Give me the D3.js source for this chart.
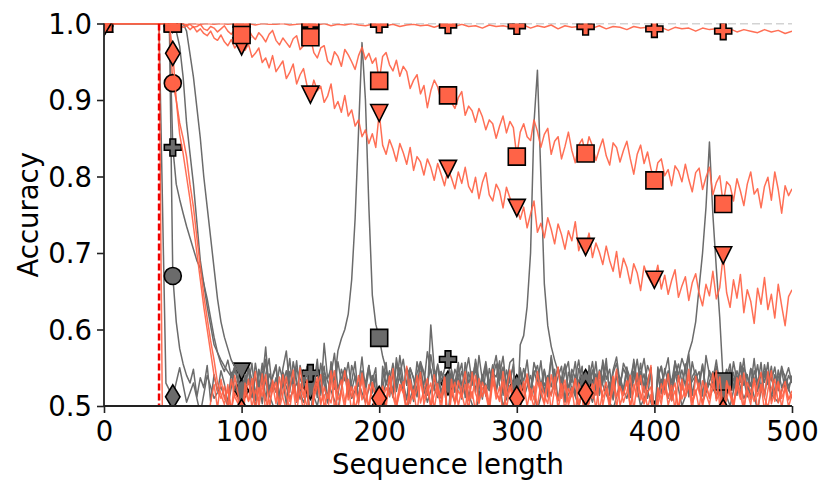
<!DOCTYPE html>
<html><head><meta charset="utf-8">
<script src="https://cdn.jsdelivr.net/npm/d3@7"></script>
<style>
body{margin:0;background:#fff}
svg{display:block}
text{font-family:"DejaVu Sans",sans-serif;fill:#000}
</style>
</head><body>
<svg id="chart" width="831" height="493"></svg>
<script>
// ---------- data ----------
const X_MAX = 500;
const MARK_EVERY = 50;       // a marker every 50 steps
const TRAIN_LENGTH = 40;     // red dashed line
const xTicks = [0, 100, 200, 300, 400, 500];
const yTicks = [0.5, 0.6, 0.7, 0.8, 0.9, 1.0];
const xLabel = "Sequence length";
const yLabel = "Accuracy";

// values sampled every 2.5 steps (x = 0, 2.5, ..., 500); one row = 50 steps
const graySquare = [
  1,1,1,1,1,1,1,1,1,1,1,1,1,1,1,1,1,1,1,1,
  1,1,1,1,.99,.96,.93,.89,.85,.8,.76,.72,.68,.64,.61,.59,.575,.56,.552,.545,
  .47,.532,.548,.515,.556,.528,.503,.541,.562,.519,.537,.51,.549,.572,.524,.538,.505,.553,.529,.545,
  .475,.528,.551,.517,.539,.506,.558,.531,.572,.588,.6,.62,.665,.745,.86,.975,.9,.76,.645,.607,
  .589,.565,.548,.532,.556,.519,.542,.561,.527,.55,.535,.512,.558,.544,.521,.567,.538,.553,.516,.541,
  .475,.546,.529,.557,.518,.54,.563,.531,.549,.512,.536,.558,.524,.545,.566,.533,.551,.528,.557,.562,
  .475,.58,.592,.63,.7,.87,.939,.8,.66,.605,.578,.56,.545,.532,.555,.52,.548,.537,.56,.528,
  .47,.543,.526,.558,.514,.539,.552,.521,.547,.564,.53,.516,.549,.536,.557,.523,.541,.562,.528,.55,
  .475,.538,.552,.524,.546,.531,.558,.54,.562,.548,.57,.585,.61,.655,.7,.76,.845,.75,.68,.615,
  .532,.548,.526,.544,.519,.557,.535,.512,.549,.53,.554,.521,.541,.528,.552,.515,.537,.546,.522,.54,
  .53];
const grayTriangle = [
  1,1,1,1,1,1,1,1,1,1,1,1,1,1,1,1,1,1,1,1,
  1,.99,.97,.93,.87,.83,.79,.74,.69,.66,.63,.605,.58,.57,.56,.552,.545,.538,.55,.532,
  .545,.519,.552,.534,.507,.548,.526,.561,.513,.537,.552,.504,.529,.546,.518,.558,.533,.509,.547,.524,
  .52,.543,.511,.556,.528,.504,.541,.569,.522,.536,.549,.515,.532,.558,.507,.544,.527,.553,.518,.539,
  .475,.534,.557,.512,.543,.525,.566,.531,.508,.549,.537,.52,.555,.541,.514,.606,.548,.526,.545,.53,
  .47,.548,.523,.539,.556,.511,.544,.527,.561,.535,.509,.547,.53,.554,.518,.541,.565,.524,.538,.551,
  .475,.526,.549,.533,.518,.557,.54,.512,.546,.529,.563,.521,.538,.552,.507,.544,.531,.558,.516,.539,
  .47,.553,.527,.542,.516,.56,.535,.548,.511,.539,.524,.556,.545,.519,.533,.561,.528,.542,.51,.55,
  .47,.537,.552,.521,.544,.508,.559,.532,.547,.526,.568,.514,.54,.531,.555,.518,.546,.534,.56,.527,
  .47,.545,.522,.558,.533,.515,.55,.538,.526,.562,.519,.543,.531,.557,.508,.541,.527,.552,.535,.52,
  .54];
const grayPlus = [
  1,1,1,1,1,1,1,1,1,1,1,1,1,1,1,1,1,1,1,1,
  .838,.79,.77,.752,.735,.72,.705,.69,.68,.66,.64,.615,.59,.57,.555,.545,.56,.538,.552,.53,
  .475,.541,.528,.556,.513,.547,.532,.577,.521,.539,.554,.508,.544,.53,.562,.517,.549,.536,.525,.552,
  .543,.527,.561,.514,.582,.536,.549,.522,.558,.531,.545,.512,.553,.538,.526,.564,.519,.547,.533,.55,
  .47,.552,.529,.546,.517,.563,.535,.524,.55,.541,.513,.558,.537,.528,.571,.546,.52,.555,.532,.548,
  .561,.524,.548,.536,.509,.557,.529,.545,.518,.566,.533,.552,.521,.543,.538,.559,.514,.547,.53,.555,
  .475,.546,.532,.56,.519,.541,.553,.527,.548,.512,.566,.534,.55,.523,.544,.558,.516,.539,.531,.552,
  .47,.535,.558,.521,.547,.53,.562,.514,.543,.556,.527,.549,.538,.511,.561,.532,.545,.524,.553,.54,
  .475,.551,.526,.544,.563,.518,.539,.555,.531,.547,.52,.558,.536,.545,.513,.566,.541,.528,.552,.534,
  .47,.538,.555,.523,.546,.531,.562,.517,.549,.535,.527,.557,.512,.544,.533,.551,.52,.547,.539,.526,
  .535];
const grayCircle = [
  1,1,1,1,1,1,1,1,1,1,1,1,1,1,1,1,1,1,1,1,
  .67,.61,.575,.555,.54,.53,.548,.512,.537,.524,.553,.506,.541,.518,.546,.529,.503,.544,.521,.538,
  .47,.526,.549,.511,.538,.523,.556,.507,.542,.53,.518,.551,.534,.502,.545,.527,.559,.515,.538,.522,
  .47,.543,.519,.535,.552,.508,.54,.527,.514,.548,.533,.557,.521,.539,.505,.546,.529,.553,.517,.541,
  .475,.523,.546,.532,.511,.555,.537,.52,.549,.528,.506,.543,.558,.516,.534,.548,.524,.511,.545,.53,
  .47,.539,.518,.551,.527,.544,.509,.535,.556,.522,.541,.513,.549,.531,.52,.554,.536,.508,.545,.527,
  .475,.55,.523,.538,.512,.546,.529,.559,.517,.54,.525,.548,.507,.536,.553,.521,.542,.514,.549,.532,
  .47,.528,.547,.515,.539,.554,.52,.531,.508,.545,.537,.522,.551,.513,.543,.527,.556,.518,.534,.547,
  .475,.541,.516,.549,.53,.507,.544,.536,.521,.555,.512,.538,.547,.525,.553,.519,.532,.545,.51,.539,
  .47,.522,.548,.535,.514,.551,.527,.541,.509,.546,.533,.518,.554,.529,.54,.513,.547,.524,.536,.55,
  .53];
const orangeTriangleUp = [
  1,1,1,1,1,1,1,1,1,1,1,1,1,1,1,1,1,.47,.47,.47,
  .47,.47,.47,.47,.47,.47,.47,.47,.47,.47,.47,.505,.528,.497,.535,.509,.521,.49,.54,.515,
  .47,.53,.506,.519,.545,.498,.527,.511,.489,.534,.52,.503,.541,.514,.496,.528,.507,.55,.516,.5,
  .47,.522,.538,.504,.515,.491,.529,.546,.508,.52,.497,.535,.512,.526,.502,.543,.518,.494,.531,.51,
  .47,.507,.524,.513,.549,.5,.518,.532,.495,.527,.511,.54,.504,.521,.536,.498,.515,.529,.492,.538,
  .47,.535,.502,.52,.511,.528,.493,.544,.516,.505,.531,.519,.498,.537,.509,.525,.49,.522,.547,.506,
  .47,.514,.532,.499,.523,.508,.545,.517,.502,.529,.513,.538,.496,.52,.534,.506,.524,.491,.53,.515,
  .47,.526,.51,.537,.494,.519,.531,.505,.522,.548,.501,.516,.533,.497,.528,.512,.54,.503,.518,.525,
  .47,.501,.529,.515,.542,.507,.52,.496,.535,.512,.527,.493,.539,.518,.504,.53,.51,.523,.546,.499,
  .47,.533,.517,.504,.526,.54,.498,.521,.51,.536,.492,.528,.514,.545,.503,.519,.531,.497,.525,.509,
  .515];
const orangeCircle = [
  1,1,1,1,1,1,1,1,1,1,1,1,1,1,1,1,1,1,1,1,
  .922,.9,.87,.85,.826,.79,.76,.72,.682,.645,.615,.585,.56,.53,.515,.502,.528,.495,.517,.508,
  .47,.512,.535,.498,.521,.507,.542,.49,.516,.529,.503,.538,.511,.495,.524,.547,.506,.519,.493,.532,
  .47,.509,.527,.541,.498,.515,.504,.533,.489,.52,.546,.508,.525,.497,.514,.536,.502,.528,.511,.494,
  .47,.524,.506,.539,.513,.495,.528,.517,.552,.503,.521,.49,.534,.509,.526,.498,.541,.515,.504,.53,
  .47,.516,.531,.5,.522,.545,.507,.519,.493,.536,.512,.527,.502,.548,.518,.509,.532,.496,.524,.513,
  .47,.527,.508,.542,.515,.498,.531,.52,.505,.537,.492,.523,.551,.51,.528,.501,.517,.535,.497,.521,
  .47,.508,.529,.514,.545,.501,.523,.496,.538,.512,.526,.505,.519,.54,.494,.531,.516,.503,.528,.553,
  .47,.519,.502,.533,.511,.527,.495,.54,.509,.522,.548,.504,.517,.53,.499,.525,.512,.543,.507,.518,
  .47,.531,.514,.497,.526,.509,.543,.518,.502,.535,.513,.528,.494,.521,.546,.506,.532,.51,.524,.499,
  .515];
const orangeDiamond = [
  1,1,1,1,1,1,1,1,1,1,1,1,1,1,1,1,1,1,1,1,
  .961,.9,.855,.83,.8,.77,.735,.7,.665,.63,.6,.57,.54,.52,.51,.526,.498,.535,.512,.503,
  .493,.518,.507,.536,.495,.524,.513,.541,.502,.52,.531,.497,.515,.538,.506,.523,.49,.529,.511,.534,
  .47,.514,.532,.501,.525,.51,.546,.496,.519,.534,.505,.527,.492,.516,.54,.508,.523,.499,.53,.512,
  .51,.526,.497,.539,.514,.503,.528,.517,.49,.535,.509,.521,.544,.502,.518,.53,.496,.525,.511,.537,
  .47,.521,.505,.533,.516,.497,.529,.51,.54,.503,.524,.515,.493,.532,.518,.506,.545,.512,.527,.5,
  .51,.495,.522,.537,.508,.526,.499,.531,.514,.503,.541,.519,.507,.529,.494,.523,.512,.536,.502,.52,
  .517,.503,.528,.495,.533,.511,.522,.506,.539,.498,.525,.514,.532,.5,.519,.543,.508,.526,.497,.515,
  .47,.524,.509,.535,.501,.518,.53,.494,.527,.512,.54,.505,.521,.496,.533,.516,.502,.529,.513,.538,
  .493,.509,.526,.5,.537,.515,.494,.531,.52,.506,.528,.544,.511,.498,.523,.535,.504,.519,.532,.508,
  .52];
const orangeSquare = [
  1,1,1,1,1,1,1,1,1,1,1,1,1,1,1,1,1,1,1,1,
  1,1,.998,1,.997,.999,.995,.996,.999,.993,.991,.996,.994,.989,.993,.997,.99,.986,.992,.988,
  .985,.99,.993,.984,.979,.988,.983,.976,.986,.991,.978,.972,.981,.975,.969,.98,.984,.966,.971,.977,
  .982,.962,.955,.968,.971,.951,.946,.963,.957,.944,.966,.959,.95,.94,.958,.969,.953,.961,.948,.955,
  .925,.957,.962,.946,.938,.952,.931,.944,.937,.915,.926,.933,.908,.919,.89,.912,.926,.917,.899,.904,
  .906,.897,.889,.903,.911,.88,.892,.886,.871,.889,.878,.861,.874,.869,.85,.866,.879,.857,.872,.864,
  .826,.858,.869,.852,.847,.874,.859,.838,.855,.863,.829,.846,.852,.823,.839,.858,.834,.818,.841,.849,
  .83,.852,.84,.821,.836,.849,.827,.815,.844,.838,.819,.834,.846,.823,.803,.829,.841,.817,.832,.81,
  .795,.818,.823,.801,.809,.788,.814,.807,.793,.816,.796,.78,.805,.811,.783,.799,.812,.776,.792,.801,
  .764,.793,.788,.768,.797,.781,.762,.79,.806,.777,.784,.759,.787,.799,.769,.806,.783,.752,.788,.775,
  .784];
const orangeTriangle = [
  1,1,1,1,1,1,1,1,1,1,1,1,1,1,1,1,1,1,1,1,
  1,.998,.999,.995,.997,.992,.996,.989,.993,.987,.984,.99,.981,.978,.985,.976,.971,.979,.968,.974,
  .97,.965,.973,.956,.961,.968,.949,.955,.942,.958,.937,.944,.951,.928,.936,.947,.921,.933,.941,.919,
  .907,.926,.912,.918,.897,.905,.921,.889,.898,.884,.906,.879,.887,.866,.874,.852,.861,.843,.856,.838,
  .883,.841,.829,.848,.836,.82,.843,.831,.816,.838,.808,.826,.819,.802,.823,.812,.795,.817,.803,.788,
  .81,.798,.784,.806,.791,.812,.787,.779,.799,.771,.792,.805,.776,.768,.79,.781,.759,.786,.772,.764,
  .759,.744,.76,.733,.751,.768,.727,.739,.72,.746,.731,.712,.738,.724,.705,.729,.716,.741,.703,.718,
  .708,.726,.694,.713,.701,.685,.709,.69,.676,.702,.668,.693,.681,.66,.686,.674,.651,.683,.67,.662,
  .665,.684,.653,.671,.646,.664,.678,.642,.657,.669,.638,.661,.673,.647,.631,.659,.644,.676,.64,.655,
  .697,.648,.629,.665,.641,.672,.622,.652,.637,.608,.654,.633,.668,.626,.646,.615,.659,.631,.605,.643,
  .652];

// values sampled every 5 steps (x = 0, 5, ..., 500); one row = 50 steps
const grayDiamond = [
  1,1,1,1,1,1,1,1,1,.53,
  .512,.55,.505,.53,.49,.54,.51,.525,.5,.548,
  .52,.535,.5,.545,.515,.49,.54,.51,.53,.505,
  .525,.5,.545,.52,.495,.55,.51,.53,.505,.54,
  .5,.53,.515,.55,.495,.525,.545,.505,.535,.51,
  .53,.505,.545,.515,.49,.535,.52,.555,.5,.525,
  .525,.51,.54,.495,.53,.515,.55,.505,.525,.5,
  .532,.505,.54,.515,.495,.53,.51,.545,.5,.52,
  .49,.535,.51,.545,.5,.525,.54,.505,.53,.515,
  .524,.5,.54,.51,.53,.495,.545,.515,.505,.535,
  .51];
const orangePlus = [
  1,1,1,1,1,1,1,1,1,1,
  1,1,.999,1,.999,1,.999,1,.999,1,
  .999,1,.998,1,.999,.999,1,.998,.999,1,
  .999,.998,1,.997,.999,.998,1,.998,.997,.999,
  .999,.997,.999,.996,.998,.999,.997,.998,.995,.998,
  .998,.996,.999,.996,.997,.994,.998,.996,.997,.995,
  .997,.998,.994,.997,.995,.998,.993,.997,.995,.996,
  .996,.994,.997,.993,.996,.995,.992,.996,.994,.995,
  .993,.995,.991,.995,.993,.994,.99,.994,.992,.993,
  .99,.993,.989,.992,.99,.988,.992,.989,.991,.987,
  .99];

// ---------- series setup (draw order) ----------
const GRAY = "#6b6b6b", ORANGE = "#ff6347";
const series = [
  {values: grayDiamond,      step: 5,   color: GRAY,   marker: "diamond"},
  {values: grayCircle,       step: 2.5, color: GRAY,   marker: "circle"},
  {values: grayTriangle,     step: 2.5, color: GRAY,   marker: "triangle"},
  {values: grayPlus,         step: 2.5, color: GRAY,   marker: "plus"},
  {values: graySquare,       step: 2.5, color: GRAY,   marker: "square"},
  {values: orangeTriangleUp, step: 2.5, color: ORANGE, marker: "triangleUp"},
  {values: orangePlus,       step: 5,   color: ORANGE, marker: "plus"},
  {values: orangeCircle,     step: 2.5, color: ORANGE, marker: "circle"},
  {values: orangeTriangle,   step: 2.5, color: ORANGE, marker: "triangle"},
  {values: orangeSquare,     step: 2.5, color: ORANGE, marker: "square"},
  {values: orangeDiamond,    step: 2.5, color: ORANGE, marker: "diamond"}
];
series.forEach((s, k) => {
  const n = X_MAX / s.step + 1;
  if (s.values.length !== n) throw new Error(`series ${k} has ${s.values.length} values, expected ${n}`);
});

// ---------- layout ----------
const L = 104, R = 792, T = 23.5, B = 406;
const x = d3.scaleLinear().domain([0, X_MAX]).range([L, R]);
const y = d3.scaleLinear().domain([0.5, 1.0]).range([B, T]);
const svg = d3.select("#chart");

svg.append("defs").append("clipPath").attr("id", "plotclip")
  .append("rect").attr("x", L).attr("y", T).attr("width", R - L).attr("height", B - T);

const plot = svg.append("g").attr("clip-path", "url(#plotclip)");

// dashed reference at 1.0
plot.append("line")
  .attr("x1", x(0)).attr("x2", x(X_MAX)).attr("y1", y(1)).attr("y2", y(1))
  .attr("stroke", "#a8a8a8").attr("stroke-width", 1.6).attr("stroke-dasharray", "8,4");

const MS = 17;
function markerPath(kind) {
  const h = MS / 2;
  switch (kind) {
    case "square": return `M${-h},${-h}H${h}V${h}H${-h}Z`;
    case "triangle": return `M0,${h}L${-h},${-h}L${h},${-h}Z`;
    case "triangleUp": return `M0,${-h}L${h},${h}L${-h},${h}Z`;
    case "circle": return `M${h},0A${h},${h} 0 1,1 ${-h},0A${h},${h} 0 1,1 ${h},0Z`;
    case "plus": { const a = h, w = h / 3;
      return `M${-w},${-a}H${w}V${-w}H${a}V${w}H${w}V${a}H${-w}V${w}H${-a}V${-w}H${-w}Z`; }
    case "diamond": { const dh = MS * 0.707, dw = dh * 0.6;
      return `M0,${-dh}L${dw},0L0,${dh}L${-dw},0Z`; }
  }
}

series.forEach(s => {
  const pts = s.values.map((v, i) => ({xv: i * s.step, yv: v}));
  const g = plot.append("g");
  g.append("path").datum(pts)
    .attr("d", d3.line().x(d => x(d.xv)).y(d => y(d.yv)))
    .attr("fill", "none")
    .attr("stroke", s.color).attr("stroke-width", 1.5)
    .attr("stroke-opacity", s.color === ORANGE ? 0.92 : 1)
    .attr("stroke-linejoin", "round");
  const marks = pts.filter(d => Math.abs(d.xv % MARK_EVERY) < 1e-9 && d.xv < X_MAX);
  g.selectAll("path.m").data(marks).enter().append("path").attr("class", "m")
    .attr("d", markerPath(s.marker))
    .attr("transform", d => `translate(${x(d.xv)},${y(d.yv)})`)
    .attr("fill", s.color).attr("stroke", "#000").attr("stroke-width", 1.6)
    .attr("stroke-linejoin", "miter");
});

// training length line
plot.append("line")
  .attr("x1", x(TRAIN_LENGTH)).attr("x2", x(TRAIN_LENGTH)).attr("y1", y(1)).attr("y2", y(0.5))
  .attr("stroke", "#f00000").attr("stroke-width", 2.5).attr("stroke-dasharray", "7,3");

// ---------- axes ----------
const axisColor = "#222";
const FS = 27.5;
const xAxis = svg.append("g").attr("transform", `translate(0,${B})`)
  .call(d3.axisBottom(x).tickValues(xTicks).tickSize(7).tickPadding(5).tickFormat(d3.format("d")));
const yAxis = svg.append("g").attr("transform", `translate(${L},0)`)
  .call(d3.axisLeft(y).tickValues(yTicks).tickSize(7).tickPadding(5).tickFormat(d3.format(".1f")));
[xAxis, yAxis].forEach(a => {
  a.select(".domain").attr("stroke", axisColor).attr("stroke-width", 1.8);
  a.selectAll(".tick line").attr("stroke", axisColor).attr("stroke-width", 1.6);
  a.selectAll(".tick text").attr("font-size", FS).attr("font-family", "DejaVu Sans").attr("fill", "#000");
});
xAxis.select(".domain").attr("d", `M${L},0H${R}`);
yAxis.select(".domain").attr("d", `M0,${B}V${T}`);
xAxis.selectAll(".tick text").attr("dy", null).attr("y", 35);
yAxis.selectAll(".tick text").attr("dy", "0.36em");

svg.append("text").attr("x", (L + R) / 2).attr("y", 474)
  .attr("text-anchor", "middle").attr("font-size", FS).text(xLabel);
svg.append("text").attr("transform", `translate(38,${(T + B) / 2}) rotate(-90)`)
  .attr("text-anchor", "middle").attr("font-size", FS).text(yLabel);
</script>
</body></html>
